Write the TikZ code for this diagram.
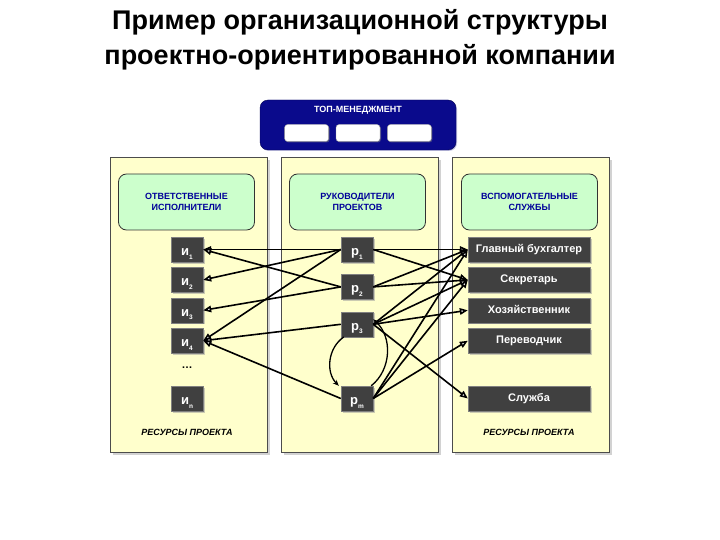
\documentclass[tikz,border=0pt]{standalone}
\usepackage{fontspec}
\setmainfont{Liberation Sans}
\usetikzlibrary{positioning, shadows, arrows.meta}
\definecolor{colbg}{HTML}{FFFFCC}
\definecolor{hdbg}{HTML}{CCFFCC}
\definecolor{hdtext}{HTML}{000099}
\definecolor{itembg}{HTML}{404040}
\definecolor{topbg}{HTML}{0A0A8C}
\newcommand{\idx}[1]{\raisebox{-3.5pt}{\fontsize{6.5}{7}\selectfont #1}}
\tikzset{
  column/.style={
    rectangle,
    thick,draw=black!70,fill=colbg,
    minimum width=157pt, minimum height=295pt,
    drop shadow={shadow xshift=3pt, shadow yshift=-3pt, fill=black!35}
  },
  header/.style={
    rectangle, rounded corners=8pt,
    thick,draw=black!80,fill=hdbg,
    minimum width=136pt, minimum height=56pt, align=center,
    text=hdtext, font=\bfseries\fontsize{9}{11}\selectfont
  },
  res/.style={
    rectangle,
    draw=black!50,fill=itembg,text=white,
    minimum width=32pt, minimum height=25pt, inner sep=0pt,
    text height=12pt, text depth=0pt,
    font=\bfseries\fontsize{13}{14}\selectfont,
    drop shadow={shadow xshift=1.5pt, shadow yshift=-1.5pt, fill=black!40}
  },
  service/.style={res, minimum width=122pt,
    text height=8pt, text depth=2pt,
    font=\bfseries\fontsize{11}{12}\selectfont},
  topbox/.style={
    rectangle, rounded corners=3pt,
    draw=black!40,fill=white,
    minimum width=44pt, minimum height=17pt,
    drop shadow={shadow xshift=1pt, shadow yshift=-1pt, fill=black!50}
  },
  footer/.style={font=\bfseries\itshape\fontsize{9}{10}\selectfont},
  link/.style={-{Triangle[fill=white,length=8pt,width=6.5pt]}, line width=1.6pt},
  loop/.style={-{Stealth[length=6pt,width=5pt]}, line width=1.3pt}
}

\begin{document}
\begin{tikzpicture}[x=1pt, y=-1pt, node distance=5pt]
  \useasboundingbox (0,0) rectangle (720,540);

  \node[font=\bfseries\fontsize{27}{35}\selectfont, align=center] (title) at (360,40)
    {Пример организационной структуры\\проектно-ориентированной компании};

  % top management
  \node[rectangle, rounded corners=8pt, fill=topbg, draw=topbg!60!black,
        minimum width=196pt, minimum height=50pt,
        drop shadow={shadow xshift=1pt, shadow yshift=-1pt, fill=topbg!50}] (top) at (358,125) {};
  \node[text=white, font=\bfseries\fontsize{9}{10}\selectfont] (toplbl) at (358,110) {ТОП-МЕНЕДЖМЕНТ};
  \node[topbox] (tm2) at (358,133) {};
  \node[topbox] (tm1) [left=7pt of tm2] {};
  \node[topbox] (tm3) [right=7pt of tm2] {};

  % columns
  \node[column] (colL) at (188.5,304.5) {};
  \node[column] (colM) at (359.5,304.5) {};
  \node[column] (colR) at (530.5,304.5) {};

  \node[header] (hdL) at (186.5,202) {ОТВЕТСТВЕННЫЕ\\ИСПОЛНИТЕЛИ};
  \node[header] (hdM) at (357.5,202) {РУКОВОДИТЕЛИ\\ПРОЕКТОВ};
  \node[header] (hdR) at (529.5,202) {ВСПОМОГАТЕЛЬНЫЕ\\СЛУЖБЫ};

  % executors
  \node[res] (i1) at (187,249.5) {и\idx{1}};
  \node[res] (i2) [below=of i1] {и\idx{2}};
  \node[res] (i3) [below=of i2] {и\idx{3}};
  \node[res] (i4) [below=of i3] {и\idx{4}};
  \node[font=\bfseries\fontsize{11}{12}\selectfont] (dots) at (187,368) {\dots};
  \node[res] (in) at (187,398.5) {и\idx{n}};

  % project managers
  \node[res] (p1) at (357,249.5) {р\idx{1}};
  \node[res] (p2) [below=12pt of p1] {р\idx{2}};
  \node[res] (p3) [below=12pt of p2] {р\idx{3}};
  \node[res] (pm) at (357,398.5) {р\idx{m}};

  % services
  \node[service] (r1) at (529,249.5) {Главный бухгалтер};
  \node[service] (r2) [below=of r1] {Секретарь};
  \node[service] (r3) [below=of r2] {Хозяйственник};
  \node[service] (r4) [below=of r3] {Переводчик};
  \node[service] (r5) at (529,398.5) {Служба};

  \node[footer] (resL) at (187,432) {РЕСУРСЫ ПРОЕКТА};
  \node[footer] (resR) at (529,432) {РЕСУРСЫ ПРОЕКТА};

  \path[link]
  (p1.west) edge (i1.east)
  (p1.west) edge (i2.east)
  (p1.west) edge (i4.east)
  (p2.west) edge (i1.east)
  (p2.west) edge (i3.east)
  (p3.west) edge (i4.east)
  (pm.west) edge (i4.east)
  (p1.east) edge (r1.west)
  (p1.east) edge (r2.west)
  (p2.east) edge (r1.west)
  (p2.east) edge (r2.west)
  (p3.east) edge (r1.west)
  (p3.east) edge (r2.west)
  (p3.east) edge (r3.west)
  (p3.east) edge (r5.west)
  (pm.east) edge (r1.west)
  (pm.east) edge (r2.west)
  (pm.east) edge (r4.west);

  \path[loop]
  ([xshift=3pt]p3.south west) edge [bend right=50] ([xshift=-2pt]pm.north west)
  ([xshift=-2pt]pm.north east) edge [bend right=50] ([yshift=5pt]p3.east);
\end{tikzpicture}
\end{document}
